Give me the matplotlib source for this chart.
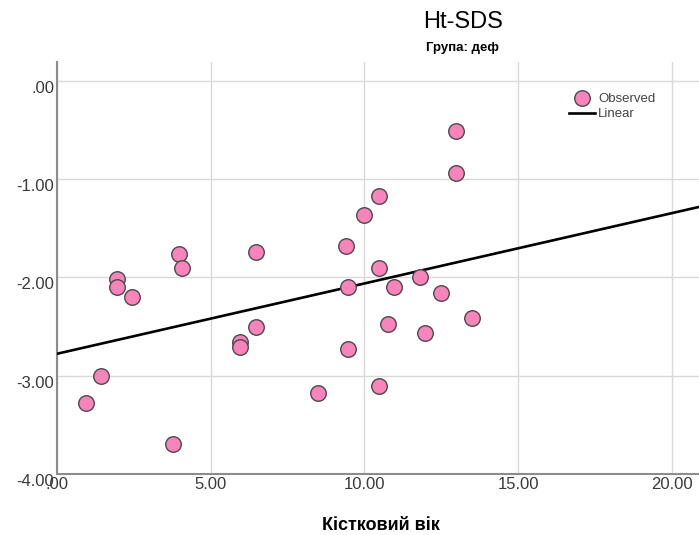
import numpy as np
import matplotlib.pyplot as plt
import matplotlib.transforms as mtransforms

# bone age vs Ht-SDS
bone_age = [0.94, 1.43, 1.95, 1.95, 2.44, 3.77, 3.97, 4.05, 5.95, 5.95,
            6.47, 6.47, 8.49, 9.40, 9.45, 9.45, 9.98, 10.47, 10.47, 10.47,
            10.76, 10.96, 11.80, 11.97, 12.49, 12.98, 12.98, 13.50]
ht_sds = [-3.28, -3.00, -2.02, -2.10, -2.20, -3.69, -1.76, -1.90, -2.66, -2.71,
          -2.50, -1.74, -3.18, -1.68, -2.10, -2.73, -1.37, -1.17, -1.90, -3.11,
          -2.47, -2.10, -2.00, -2.57, -2.16, -0.51, -0.94, -2.41]

xticks = [0, 5, 10, 15, 20]
xlabels = ['.00', '5.00', '10.00', '15.00', '20.00']
yticks = [0, -1, -2, -3, -4]
ylabels = ['.00', '-1.00', '-2.00', '-3.00', '-4.00']

plt.rcParams['font.family'] = ['Liberation Sans', 'DejaVu Sans']

fig = plt.figure(figsize=(6.99, 5.35), dpi=100)
ax = fig.add_axes([57/699, 1-474/535, 1-57/699, (474-62)/535])

x = np.array(bone_age)
y = np.array(ht_sds)
k, b = np.polyfit(x, y, 1)
xl = np.array([0, 21])
ax.plot(xl, k*xl + b, color='black', lw=1.9, zorder=3, label='Linear')
ax.scatter(x, y, s=125, c='#f984bb', edgecolors='#4a4a4a', linewidths=1.0,
           zorder=4, label='Observed')

ax.set_xlim(0, 20.88)
ax.set_ylim(-4, 0.19)
ax.set_xticks(xticks)
ax.set_xticklabels(xlabels, fontsize=12, color='#3a3a3a')
ax.set_yticks(yticks)
ax.set_yticklabels(ylabels, fontsize=12, color='#3a3a3a')
ax.tick_params(length=0, pad=2)
off = mtransforms.ScaledTranslation(0, -6/100, fig.dpi_scale_trans)
for lab in ax.get_yticklabels():
    lab.set_transform(lab.get_transform() + off)
ax.grid(True, color='#d9d9d9', lw=1.0)
ax.set_axisbelow(True)
for s in ['top', 'right']:
    ax.spines[s].set_visible(False)
for s in ['left', 'bottom']:
    ax.spines[s].set_color('#8c8c8c')
    ax.spines[s].set_linewidth(1.5)

h, l = ax.get_legend_handles_labels()
ax.legend(h[::-1], l[::-1], loc='upper left', bbox_to_anchor=(562/699, 1-86/535),
          bbox_transform=fig.transFigure, frameon=False, fontsize=9.5,
          labelcolor='#444444', handlelength=2.0, handletextpad=0.25,
          labelspacing=0.25, borderpad=0, markerscale=1.0)

fig.text(463/699, 1-22/535, 'Ht-SDS', ha='center', va='center', fontsize=17)
fig.text(463/699, 1-48/535, 'Група: деф', ha='center', va='center', fontsize=9.5,
         weight='bold')
fig.text(381/699, 1-526/535, 'Кістковий вік', ha='center', va='center',
         fontsize=13, weight='bold')

fig.savefig('out.png', dpi=100)
